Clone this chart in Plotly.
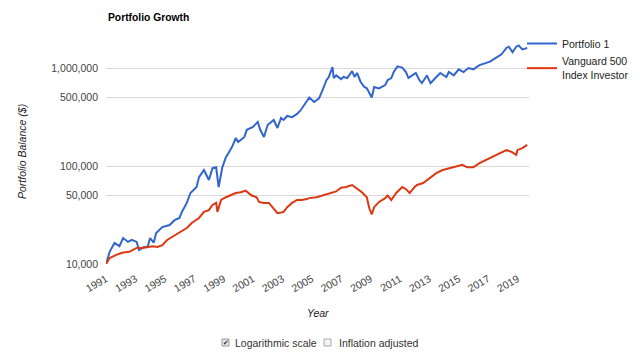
import plotly.graph_objects as go

# Portfolio 1 (blue)
p1_dates = ["1991-01","1991-04","1991-08","1991-12","1992-03","1992-07","1992-10","1993-02","1993-04","1993-08",
            "1993-11","1994-01","1994-04","1994-06","1994-11","1995-05","1995-09","1996-01","1996-03","1996-07",
            "1996-10","1997-03","1997-05","1997-07","1997-09","1998-01","1998-04","1998-07","1998-09","1998-12",
            "1999-03","1999-05","1999-08","1999-11","2000-01","2000-06","2000-08","2001-01","2001-05","2001-07",
            "2001-10","2002-01","2002-04","2002-06","2002-09","2002-12","2003-02","2003-05","2003-09","2004-01",
            "2004-04","2004-08","2004-11","2005-03","2005-07","2005-10","2006-01","2006-03","2006-06","2006-07",
            "2006-09","2007-01","2007-03","2007-06","2007-10","2007-12","2008-02","2008-05","2008-08","2008-10",
            "2009-02","2009-04","2009-08","2010-01","2010-03","2010-06","2010-08","2010-11","2011-03","2011-06",
            "2011-08","2011-11","2012-02","2012-05","2012-07","2012-11","2013-02","2013-06","2013-10","2014-03",
            "2014-05","2014-09","2015-01","2015-05","2015-09","2016-01","2016-06","2016-11","2017-03","2017-07",
            "2017-12","2018-04","2018-06","2018-09","2018-12","2019-02","2019-05","2019-09"]
p1_values = [10000,13300,16400,15200,18400,16800,17600,16800,13900,14900,
             15000,18400,16500,20700,23800,25000,28000,29500,34000,42000,
             53000,61000,77000,85000,91000,72000,95000,97000,61000,97000,
             123000,135000,157000,193000,176000,198000,234000,250000,282000,234000,
             198000,262000,282000,295000,244000,309000,295000,324000,315000,340000,
             371000,440000,500000,450000,490000,600000,750000,810000,1020000,790000,
             840000,770000,810000,790000,930000,810000,890000,720000,640000,620000,
             500000,640000,620000,670000,750000,790000,910000,1040000,1010000,910000,
             790000,840000,890000,750000,700000,840000,700000,790000,890000,810000,
             910000,840000,970000,910000,1000000,970000,1070000,1120000,1170000,1260000,
             1380000,1600000,1650000,1450000,1650000,1700000,1550000,1600000]

# Vanguard 500 Index Investor (red)
v5_dates = ["1991-01","1991-04","1991-09","1992-02","1992-08","1993-02","1993-07","1993-11","1994-03","1994-07",
            "1994-11","1995-03","1995-07","1996-01","1996-07","1996-11","1997-05","1997-09","1998-01","1998-04",
            "1998-07","1998-08","1998-11","1999-03","1999-07","1999-11","2000-03","2000-07","2000-12","2001-04",
            "2001-06","2001-10","2002-02","2002-06","2002-09","2002-12","2003-02","2003-05","2003-09","2004-01",
            "2004-05","2004-09","2004-11","2005-05","2005-10","2006-03","2006-09","2007-01","2007-05","2007-10",
            "2008-01","2008-04","2008-06","2008-10","2008-12","2009-02","2009-04","2009-08","2010-01","2010-03",
            "2010-06","2010-10","2011-03","2011-06","2011-09","2012-01","2012-03","2012-08","2013-01","2013-07",
            "2013-12","2014-05","2014-11","2015-04","2015-08","2016-01","2016-06","2016-11","2017-04","2017-10",
            "2018-04","2018-08","2018-12","2019-01","2019-05","2019-09"]
v5_values = [10000,11500,12300,13000,13300,14600,14600,14900,15200,14900,
             15600,17600,18900,20700,23300,26200,29500,34000,35500,40000,
             42000,34000,45000,48000,50000,53000,54000,56000,50000,48000,
             43000,42000,42000,37000,33000,33500,34000,38000,42000,45000,
             45000,46000,47000,48000,50000,53000,55000,60000,61000,64000,
             60000,56000,54000,48000,37000,32000,38000,43000,47000,50000,
             45000,53000,61000,58000,53000,61000,64000,67000,75000,85000,
             91000,95000,100000,103000,97000,97000,107000,115000,123000,135000,
             145000,140000,130000,145000,152000,164000]

y_tickvals = [10000, 50000, 100000, 500000, 1000000]
y_ticktext = ["10,000", "50,000", "100,000", "500,000", "1,000,000"]
x_years = list(range(1991, 2020, 2))

FONT = "Arial, Liberation Sans, sans-serif"

fig = go.Figure()
fig.add_trace(go.Scatter(x=[d + "-01" for d in p1_dates], y=p1_values, mode="lines",
                         name="Portfolio 1", line=dict(color="#3366cc", width=2)))
fig.add_trace(go.Scatter(x=[d + "-01" for d in v5_dates], y=v5_values, mode="lines",
                         name="Vanguard 500<br>Index Investor", line=dict(color="#dc3912", width=2)))

fig.update_layout(
    width=640, height=359,
    margin=dict(l=106, r=111, t=40, b=95, autoexpand=False),
    paper_bgcolor="white", plot_bgcolor="white",
    font=dict(family=FONT, size=10.5, color="#444"),
    showlegend=True,
    legend=dict(xref="container", yref="container",
                x=522 / 640, y=1 - 29 / 359, xanchor="left", yanchor="top",
                font=dict(family=FONT, size=10.5, color="#222"),
                bgcolor="rgba(0,0,0,0)", tracegroupgap=0),
    xaxis=dict(type="date", range=["1991-01-01", "2019-10-15"],
               tickvals=[f"{y}-01-01" for y in x_years],
               ticktext=[str(y) for y in x_years],
               tickangle=-30, showgrid=False, zeroline=False, showline=False,
               ticks="", automargin=False, ticklabelstandoff=6,
               tickfont=dict(size=10.5, color="#444")),
    yaxis=dict(type="log", range=[4, 6.2857],
               tickvals=y_tickvals, ticktext=y_ticktext,
               showgrid=True, gridcolor="#d9d9d9", gridwidth=1,
               zeroline=False, showline=False, ticks="", automargin=False,
               ticklabelstandoff=7,
               tickfont=dict(size=10.5, color="#444")),
    annotations=[
        dict(text="<b>Portfolio Growth</b>", xref="paper", yref="paper",
             x=0, y=1 + 23 / 224, xanchor="left", yanchor="middle", showarrow=False,
             font=dict(family=FONT, size=10.3, color="#000")),
        dict(text="<i>Portfolio Balance ($)</i>", xref="paper", yref="paper",
             x=-84 / 423, y=0.5, textangle=-90, xanchor="center", yanchor="middle",
             showarrow=False, font=dict(family=FONT, size=10.5, color="#222")),
        dict(text="<i>Year</i>", xref="paper", yref="paper",
             x=(318 - 106) / 423, y=-(313 - 264) / 224, xanchor="center", yanchor="middle",
             showarrow=False, font=dict(family=FONT, size=10.5, color="#222")),
        dict(text="Logarithmic scale", xref="paper", yref="paper",
             x=(233 - 106) / 423, y=-(343 - 264) / 224, xanchor="left", yanchor="middle",
             showarrow=False, font=dict(family=FONT, size=10.5, color="#333")),
        dict(text="Inflation adjusted", xref="paper", yref="paper",
             x=(337 - 106) / 423, y=-(343 - 264) / 224, xanchor="left", yanchor="middle",
             showarrow=False, font=dict(family=FONT, size=10.5, color="#333")),
        dict(text="✔", xref="paper", yref="paper",
             x=(225.5 - 106) / 423, y=-(342.5 - 264) / 224, xanchor="center", yanchor="middle",
             showarrow=False, font=dict(family="DejaVu Sans", size=7, color="#333")),
    ],
    shapes=[
        dict(type="rect", xref="paper", yref="paper",
             x0=(222 - 106) / 423, x1=(229 - 106) / 423,
             y0=-(346 - 264) / 224, y1=-(339 - 264) / 224,
             line=dict(color="#999", width=1), fillcolor="#e6e6e6"),
        dict(type="rect", xref="paper", yref="paper",
             x0=(324 - 106) / 423, x1=(331 - 106) / 423,
             y0=-(346 - 264) / 224, y1=-(339 - 264) / 224,
             line=dict(color="#aaa", width=1), fillcolor="#f4f4f4"),
    ],
)

fig.write_html("out.html", config={"displayModeBar": False},
               post_script="document.body.style.margin='0';")
